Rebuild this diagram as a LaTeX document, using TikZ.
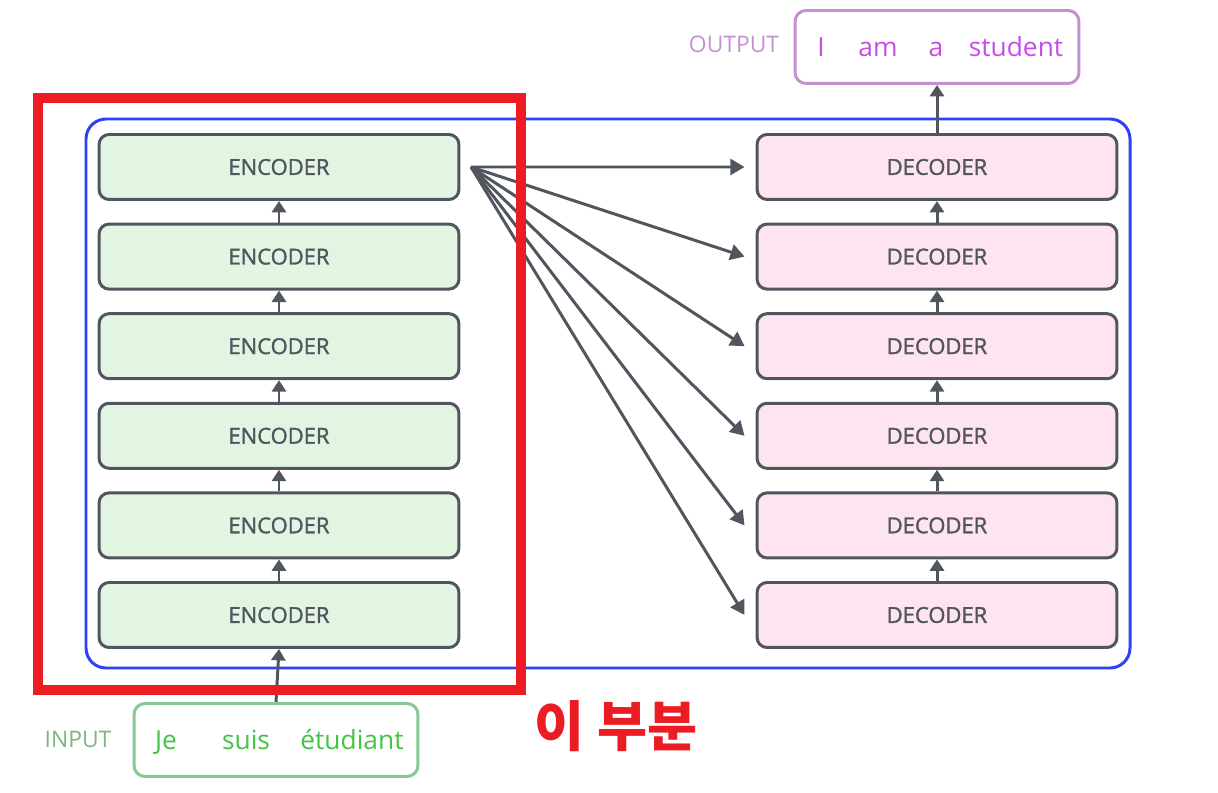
\documentclass[tikz,border=0pt]{standalone}
\usepackage{fontspec}
\setmainfont{Open Sans}
\newfontfamily\boxfont{Open Sans}[FakeBold=1.4]
\newfontfamily\krfont{Noto Sans CJK KR}
\usepackage{tikz}
\usetikzlibrary{arrows.meta}
\definecolor{boxgray}{HTML}{51565E}
\definecolor{encfill}{HTML}{E2F5E2}
\definecolor{decfill}{HTML}{FDE4F0}
\definecolor{stackblue}{HTML}{2F40F5}
\definecolor{markred}{HTML}{EC1C24}
\definecolor{ingreen}{HTML}{86C994}
\definecolor{intext}{HTML}{44C444}
\definecolor{inlabel}{HTML}{7AB87E}
\definecolor{outpurple}{HTML}{C490D0}
\definecolor{outtext}{HTML}{C84CE4}
\tikzset{layer/.style={draw=boxgray, line width=1.7pt, rounded corners=0.2cm, minimum width=7.2cm, minimum height=1.3cm, text=boxgray, font=\boxfont\fontsize{12.5}{14}\selectfont},
  enc/.style={layer, fill=encfill},
  dec/.style={layer, fill=decfill},
  flow/.style={boxgray, line width=1.7pt, -{Triangle[length=6.5pt,width=8pt]}},
  fanflow/.style={boxgray, line width=1.7pt, -{Triangle[length=8pt,width=9pt]}},
  wordbox/.style={line width=1.7pt, rounded corners=0.22cm, minimum width=5.68cm, minimum height=1.46cm},
  word/.style={anchor=base, font=\fontsize{15}{18}\selectfont},
  sidelabel/.style={anchor=base, font=\fontsize{13}{15}\selectfont}}

\begin{document}
\begin{tikzpicture}[x=0.02cm, y=-0.02cm]
\useasboundingbox (0,0) rectangle (1218,793);

	% the stack
	\draw[stackblue, line width=1.7pt, rounded corners=0.4cm] (86,119) rectangle (1130,668);

	\foreach \i in {1,...,6} {
		\node[enc] (enc\i) at (279,{615-89.6*(\i-1)}) {ENCODER};
		\node[dec] (dec\i) at (937,{615-89.6*(\i-1)}) {DECODER};
	}
	\foreach \i [evaluate=\i as \j using int(\i+1)] in {1,...,5} {
		\draw[flow] (enc\i.north) -- (enc\j.south);
		\draw[flow] (dec\i.north) -- (dec\j.south);
	}

	% encoder output to every decoder
	\coordinate (fan) at (471,167);
	\foreach \i in {1,...,6}
		\draw[fanflow] (fan) -- ([xshift=-0.22cm]dec\i.west);

	% input and output
	\node[wordbox, draw=ingreen] (inp) at (276,740) {};
	\node[word, intext] (w1) at (166,750) {Je};
	\node[word, intext] (w2) at (246,750) {suis};
	\node[word, intext] (w3) at (352,750) {étudiant};
	\node[sidelabel, inlabel] (inlbl) at (78,748) {INPUT};
	\draw[flow] (inp.north) -- (enc1.south);

	\node[wordbox, draw=outpurple] (out) at (937,47) {};
	\node[word, outtext] (o1) at (821,57) {I};
	\node[word, outtext] (o2) at (878,57) {am};
	\node[word, outtext] (o3) at (936,57) {a};
	\node[word, outtext] (o4) at (1016,57) {student};
	\node[sidelabel, outpurple] (outlbl) at (734,53) {OUTPUT};
	\draw[flow] (dec6.north) -- (out.south);

	% highlight
	\draw[markred, line width=5.7pt] (38,98) rectangle (521,690);
	\node[markred, font=\krfont\bfseries\fontsize{31}{34}\selectfont] (mark) at (616,726) {이 부분};

\end{tikzpicture}
\end{document}
